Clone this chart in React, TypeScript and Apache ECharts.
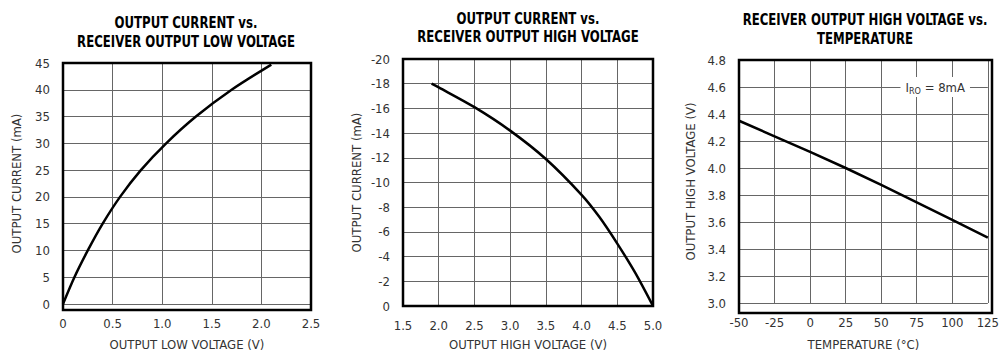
import React, { useEffect, useRef } from "react";
import * as echarts from "echarts";

// Chart 1: output current vs receiver output low voltage
const lowVoltage = [0, 0.115, 0.25, 0.40, 0.575, 0.785, 1.04, 1.34, 1.70, 2.1];
const lowCurrent = [0, 5, 10, 15, 20, 25, 30, 35, 40, 44.7];

// Chart 2: output current vs receiver output high voltage
const highVoltage = [1.9, 2.0, 2.5, 3.0, 3.5, 4.0, 4.25, 4.5, 4.75, 5.0];
const highCurrent = [-18, -17.7, -16.1, -14.2, -11.9, -9.0, -7.2, -5.05, -2.7, 0];

// Chart 3: receiver output high voltage vs temperature
const temperature = [-50, -25, 0, 25, 50, 75, 100, 125];
const vohTemp = [4.35, 4.235, 4.12, 4.0, 3.875, 3.745, 3.615, 3.485];

const titles = [
  ["OUTPUT CURRENT vs.", "RECEIVER OUTPUT LOW VOLTAGE"],
  ["OUTPUT CURRENT vs.", "RECEIVER OUTPUT HIGH VOLTAGE"],
  ["RECEIVER OUTPUT HIGH VOLTAGE vs.", "TEMPERATURE"],
];
const xNames = ["OUTPUT LOW VOLTAGE (V)", "OUTPUT HIGH VOLTAGE (V)", "TEMPERATURE (°C)"];
const yNames = ["OUTPUT CURRENT (mA)", "OUTPUT CURRENT (mA)", "OUTPUT HIGH VOLTAGE (V)"];

const FONT = "'Liberation Sans Narrow', 'DejaVu Sans Condensed', 'Roboto Condensed', sans-serif";

const grids = [
  { left: 63, top: 63, width: 248, height: 247 },
  { left: 403, top: 59, width: 250, height: 247 },
  { left: 739, top: 60, width: 253, height: 253 },
];
const titleY = [
  [23, 41.5],
  [18.5, 36.5],
  [20, 38.5],
];
const titleX = [186, 528, 865];

export default function App() {
  const ref = useRef<HTMLDivElement>(null);
  useEffect(() => {
    if (!ref.current) return;
    const chart = echarts.init(ref.current, undefined, { renderer: "svg" });
    const labelStyle = { color: "#333", fontFamily: FONT, fontSize: 13 };
    const splitLine = { show: true, lineStyle: { color: "#666", width: 1 } };
    const xBase = (i: number, min: number, max: number, interval: number, fmt: (v: number) => string, gap: number) => ({
      type: "value",
      gridIndex: i,
      min,
      max,
      interval,
      axisLine: { show: false },
      axisTick: { show: false },
      splitLine,
      axisLabel: { ...labelStyle, margin: 13, formatter: fmt },
      name: xNames[i],
      nameLocation: "middle",
      nameGap: gap,
      nameTextStyle: { ...labelStyle },
    });
    const yBase = (i: number, min: number, max: number, interval: number, fmt: (v: number) => string, gap: number, inverse = false) => ({
      type: "value",
      gridIndex: i,
      min,
      max,
      interval,
      inverse,
      axisLine: { show: false },
      axisTick: { show: false },
      splitLine,
      axisLabel: { ...labelStyle, margin: 13, formatter: fmt },
      name: yNames[i],
      nameLocation: "middle",
      nameGap: gap,
      nameTextStyle: { ...labelStyle },
    });
    const line = (i: number, xs: number[], ys: number[], extra: any = {}) => ({
      type: "line",
      xAxisIndex: i,
      yAxisIndex: i,
      data: xs.map((x, k) => [x, ys[k]]),
      showSymbol: false,
      symbol: "none",
      smooth: 0.3,
      lineStyle: { color: "#000", width: 2.5 },
      silent: true,
      ...extra,
    });
    const graphic: any[] = [];
    grids.forEach((g, i) => {
      graphic.push({
        type: "rect",
        z: 100,
        silent: true,
        shape: { x: g.left, y: g.top, width: g.width, height: g.height },
        style: { fill: "none", stroke: "#000", lineWidth: 2.5 },
      });
      titles[i].forEach((t, k) => {
        graphic.push({
          type: "text",
          x: titleX[i],
          y: titleY[i][k],
          scaleX: 0.87,
          z: 100,
          style: {
            text: t,
            fill: "#000",
            font: `bold 15px ${FONT}`,
            textAlign: "center",
            textVerticalAlign: "middle",
          },
        });
      });
    });
    chart.setOption({
      animation: false,
      grid: grids.map((g) => ({ ...g, containLabel: false })),
      xAxis: [
        xBase(0, 0, 2.5, 0.5, (v) => (v === 0 ? "0" : v.toFixed(1)), 34),
        xBase(1, 1.5, 5.0, 0.5, (v) => v.toFixed(1), 32),
        xBase(2, -50, 125, 25, (v) => String(v), 35),
      ],
      yAxis: [
        yBase(0, 0, 45, 5, (v) => String(v), 40),
        yBase(1, -20, 0, 2, (v) => String(v), 40, true),
        yBase(2, 3.0, 4.8, 0.2, (v) => v.toFixed(1), 42),
      ],
      series: [
        line(0, lowVoltage, lowCurrent),
        line(1, highVoltage, highCurrent),
        line(2, temperature, vohTemp, {
          smooth: false,
          markPoint: {
            symbol: "rect",
            symbolSize: 0,
            silent: true,
            data: [{ coord: [88, 4.6] }],
            label: {
              show: true,
              position: "inside",
              backgroundColor: "#fff",
              padding: [2, 5, 2, 5],
              formatter: "{a|I}{s|RO}{a| = 8mA}",
              rich: {
                a: { fontFamily: FONT, fontSize: 13, color: "#333", lineHeight: 16 },
                s: { fontFamily: FONT, fontSize: 9, color: "#333", lineHeight: 16, verticalAlign: "bottom", padding: [6, 0, 0, 0] },
              },
            },
          },
        }),
      ],
      graphic,
    });
    return () => chart.dispose();
  }, []);
  return (
    <div
      ref={ref}
      style={{ position: "fixed", left: 0, top: 0, width: 1002, height: 356, background: "#fff" }}
    />
  );
}
